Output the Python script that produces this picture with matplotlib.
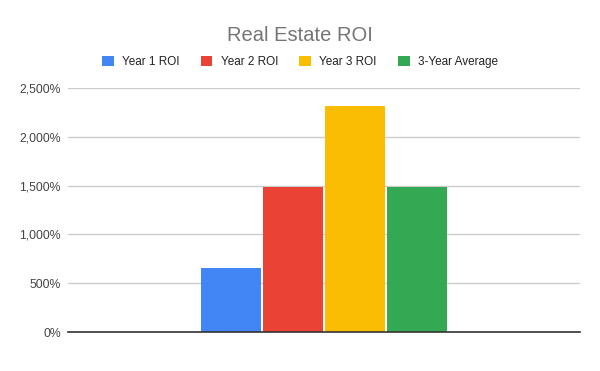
import matplotlib
matplotlib.use("Agg")
import matplotlib.pyplot as plt
from matplotlib.patches import Patch
from matplotlib.ticker import FuncFormatter

plt.rcParams['font.family'] = ['Liberation Sans', 'DejaVu Sans']

series = ["Year 1 ROI", "Year 2 ROI", "Year 3 ROI", "3-Year Average"]
values = [653, 1483, 2316, 1484]
colors = ["#4285F4", "#EA4335", "#FBBC04", "#34A853"]
yticks = [0, 500, 1000, 1500, 2000, 2500]

fig = plt.figure(figsize=(6, 3.71), dpi=100)
ax = fig.add_axes([0.113, 0.105, 0.854, 0.658])

step = 0.121
width = 0.117
for i, (s, v, c) in enumerate(zip(series, values, colors)):
    ax.bar((i - 1.5) * step, v, width=width, color=c, zorder=3, label=s)

ax.set_xlim(-0.5, 0.5)
ax.set_ylim(0, 2500)
ax.set_yticks(yticks)
ax.yaxis.set_major_formatter(FuncFormatter(lambda v, p: f"{int(v):,}%"))
ax.set_xticks([])
ax.grid(axis='y', color='#cccccc', linewidth=1, zorder=0)
for sp in ['top', 'right', 'left']:
    ax.spines[sp].set_visible(False)
ax.spines['bottom'].set_color('#333333')
ax.spines['bottom'].set_linewidth(1.2)
ax.spines['bottom'].set_zorder(4)
ax.tick_params(axis='y', length=0, labelsize=8.8, labelcolor='#444444', pad=5)

fig.text(0.5, 0.903, "Real Estate ROI", ha='center', va='center', fontsize=14.5, color='#757575')

handles = [Patch(facecolor=c, edgecolor='none') for c in colors]
fig.legend(handles, series, loc='center', bbox_to_anchor=(0.5, 0.833), ncol=4, frameon=False,
           fontsize=8.5, handlelength=1.0, handleheight=1.0, handletextpad=0.7, columnspacing=1.8,
           labelcolor='#222222')

fig.savefig("out.png", dpi=100)
